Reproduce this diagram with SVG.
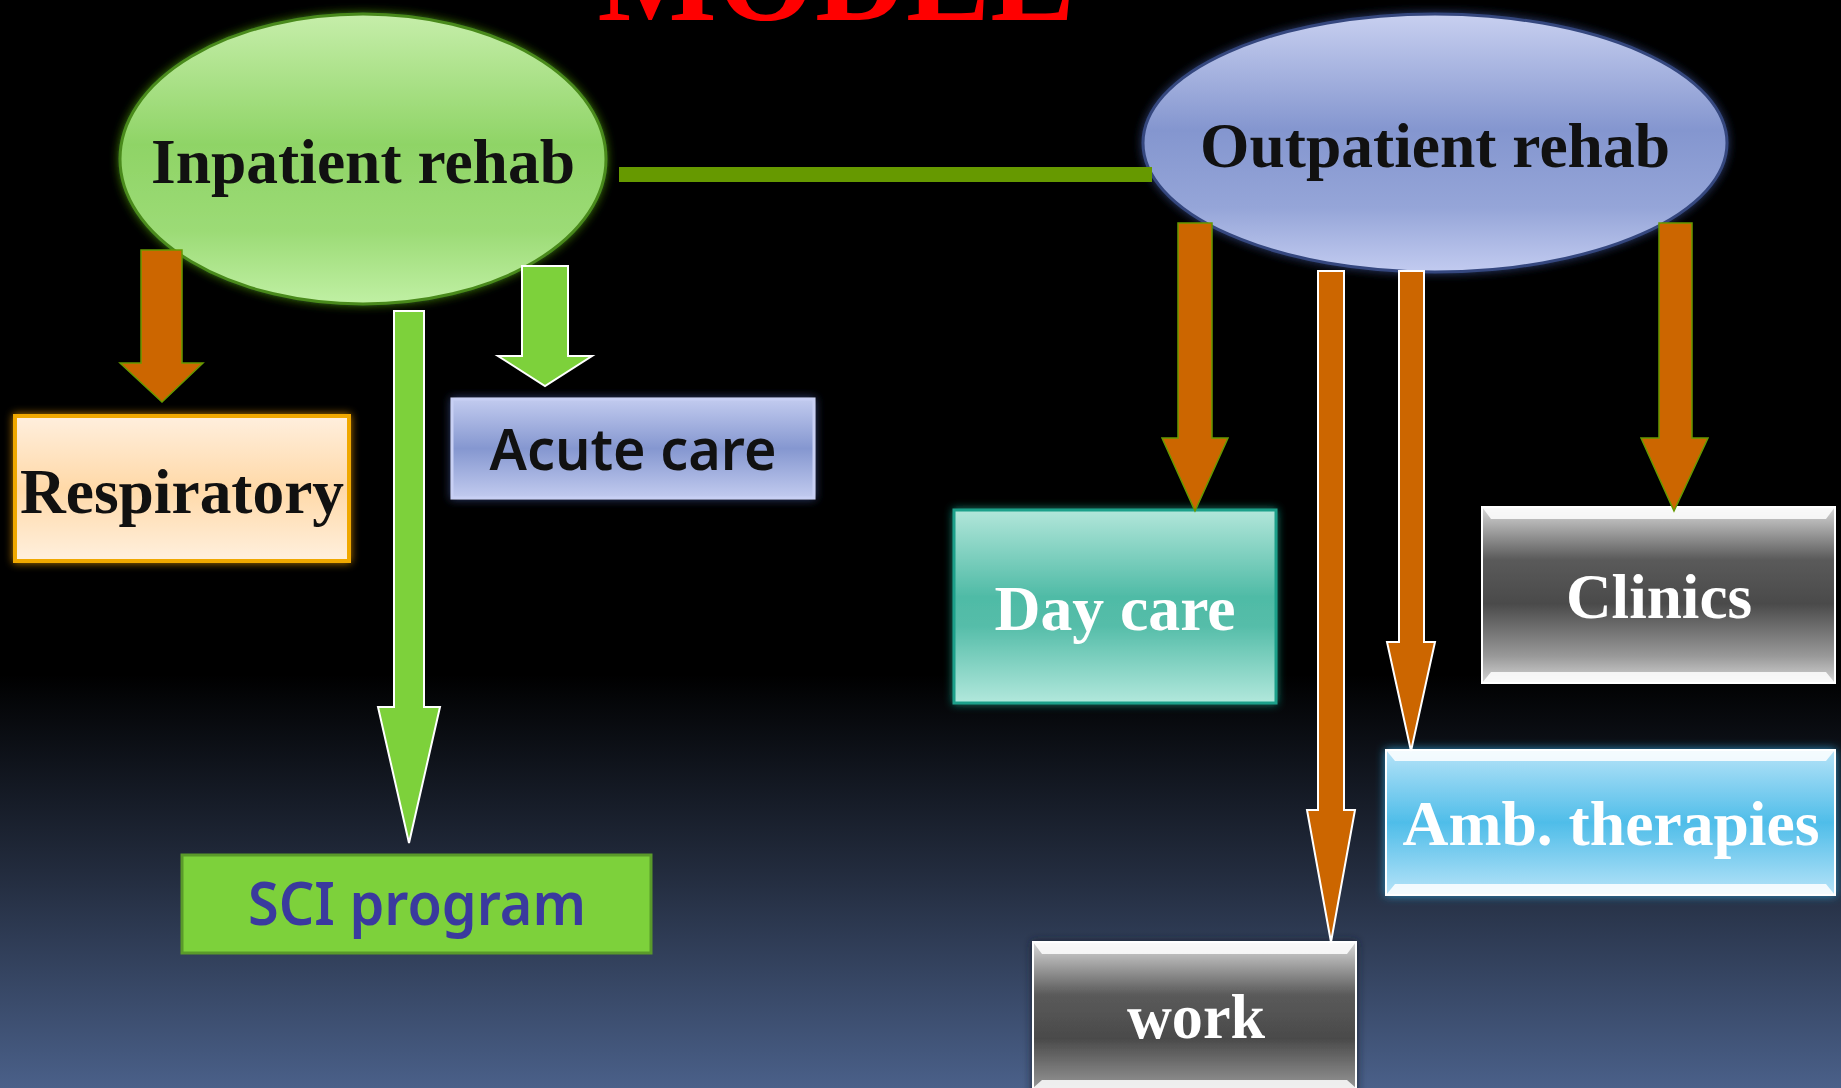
<svg xmlns="http://www.w3.org/2000/svg" width="1841" height="1088" viewBox="0 0 1841 1088">
<defs>
<linearGradient id="bg" x1="0" y1="0" x2="0" y2="1">
<stop offset="0" stop-color="#000"/><stop offset="0.62" stop-color="#000"/><stop offset="0.8" stop-color="#222b3d"/><stop offset="1" stop-color="#4a6089"/>
</linearGradient>
<linearGradient id="gIn" x1="0" y1="0" x2="0" y2="1">
<stop offset="0" stop-color="#c6eeaa"/><stop offset="0.45" stop-color="#8fd466"/><stop offset="0.75" stop-color="#9cdb76"/><stop offset="1" stop-color="#c0f0a4"/>
</linearGradient>
<linearGradient id="gOut" x1="0" y1="0" x2="0" y2="1">
<stop offset="0" stop-color="#c8d0f0"/><stop offset="0.45" stop-color="#8496cf"/><stop offset="0.75" stop-color="#95a5d8"/><stop offset="1" stop-color="#c2cbf0"/>
</linearGradient>
<linearGradient id="gResp" x1="0" y1="0" x2="0" y2="1">
<stop offset="0" stop-color="#ffefde"/><stop offset="0.5" stop-color="#ffd9a8"/><stop offset="1" stop-color="#fff0de"/>
</linearGradient>
<linearGradient id="gAcute" x1="0" y1="0" x2="0" y2="1">
<stop offset="0" stop-color="#c2cbef"/><stop offset="0.5" stop-color="#8597d0"/><stop offset="1" stop-color="#c2cbef"/>
</linearGradient>
<linearGradient id="gDay" x1="0" y1="0" x2="0" y2="1">
<stop offset="0" stop-color="#b2e6da"/><stop offset="0.45" stop-color="#4fbba6"/><stop offset="0.6" stop-color="#55bda9"/><stop offset="1" stop-color="#b2e8dc"/>
</linearGradient>
<linearGradient id="gGray" x1="0" y1="0" x2="0" y2="1">
<stop offset="0" stop-color="#d8d8d8"/><stop offset="0.3" stop-color="#5a5a5a"/><stop offset="0.55" stop-color="#4a4a4a"/><stop offset="0.85" stop-color="#9a9a9a"/><stop offset="1" stop-color="#d4d4d4"/>
</linearGradient>
<linearGradient id="gAmb" x1="0" y1="0" x2="0" y2="1">
<stop offset="0" stop-color="#b6e3f8"/><stop offset="0.5" stop-color="#4fbde9"/><stop offset="1" stop-color="#b6e3f8"/>
</linearGradient>
<filter id="glowG" x="-10%" y="-10%" width="120%" height="120%">
<feGaussianBlur in="SourceAlpha" stdDeviation="5" result="b"/>
<feFlood flood-color="#3d7a10"/><feComposite in2="b" operator="in" result="g"/>
<feMerge><feMergeNode in="g"/><feMergeNode in="SourceGraphic"/></feMerge>
</filter>
<filter id="glowB" x="-10%" y="-10%" width="120%" height="120%">
<feGaussianBlur in="SourceAlpha" stdDeviation="5" result="b"/>
<feFlood flood-color="#2c3d6e"/><feComposite in2="b" operator="in" result="g"/>
<feMerge><feMergeNode in="g"/><feMergeNode in="SourceGraphic"/></feMerge>
</filter>
<filter id="glowO" x="-10%" y="-10%" width="120%" height="120%">
<feGaussianBlur in="SourceAlpha" stdDeviation="4" result="b"/>
<feFlood flood-color="#b87a00"/><feComposite in2="b" operator="in" result="g"/>
<feMerge><feMergeNode in="g"/><feMergeNode in="SourceGraphic"/></feMerge>
</filter>
<filter id="glowT" x="-10%" y="-10%" width="120%" height="120%">
<feGaussianBlur in="SourceAlpha" stdDeviation="4" result="b"/>
<feFlood flood-color="#167a6a"/><feComposite in2="b" operator="in" result="g"/>
<feMerge><feMergeNode in="g"/><feMergeNode in="SourceGraphic"/></feMerge>
</filter>
<filter id="glowC" x="-10%" y="-10%" width="120%" height="120%">
<feGaussianBlur in="SourceAlpha" stdDeviation="5" result="b"/>
<feFlood flood-color="#2b8fc0"/><feComposite in2="b" operator="in" result="g"/>
<feMerge><feMergeNode in="g"/><feMergeNode in="SourceGraphic"/></feMerge>
</filter>
<filter id="glowK" x="-10%" y="-10%" width="120%" height="120%">
<feGaussianBlur in="SourceAlpha" stdDeviation="4" result="b"/>
<feFlood flood-color="#1a2030"/><feComposite in2="b" operator="in" result="g"/>
<feMerge><feMergeNode in="g"/><feMergeNode in="SourceGraphic"/></feMerge>
</filter>
</defs>
<style>
.serif{font-family:"Liberation Serif","Times New Roman",serif;font-weight:bold;}
.sans{font-family:"Noto Sans","Open Sans",sans-serif;font-weight:600;}
.lbl{font-size:64px;text-anchor:middle;}
.white{fill:#fff;}
.black{fill:#111;}
.arrO{fill:#cc6600;stroke:#669900;stroke-width:1.5;}
.arrOW{fill:#cc6600;stroke:#fff;stroke-width:2;}
.arrG{fill:#7dd13b;stroke:#fff;stroke-width:2;}
.bevel{fill:#fff;opacity:0.85;}
</style>
<rect x="0" y="0" width="1841" height="1088" fill="url(#bg)"/>
<text x="836" y="20" class="serif" font-size="126" fill="#ff0000" text-anchor="middle" textLength="477" lengthAdjust="spacingAndGlyphs">MODEL</text>

<g id="inpatient">
<ellipse cx="363" cy="159" rx="243" ry="145" fill="url(#gIn)" stroke="#4a8a1a" stroke-width="3" filter="url(#glowG)"/>
<text x="363" y="183" class="serif lbl black" textLength="424" lengthAdjust="spacingAndGlyphs">Inpatient rehab</text>
</g>
<g id="outpatient">
<ellipse cx="1435" cy="143" rx="292" ry="129" fill="url(#gOut)" stroke="#34477e" stroke-width="3" filter="url(#glowB)"/>
<text x="1435" y="167" class="serif lbl black" textLength="470" lengthAdjust="spacingAndGlyphs">Outpatient rehab</text>
</g>
<g id="respiratory">
<rect x="15" y="416" width="334" height="145" fill="url(#gResp)" stroke="#f0a800" stroke-width="4" filter="url(#glowO)"/>
<text x="182" y="513" class="serif lbl black" textLength="324" lengthAdjust="spacingAndGlyphs">Respiratory</text>
</g>
<g id="acute">
<rect x="452" y="399" width="362" height="99" fill="url(#gAcute)" stroke="#c8d0f4" stroke-width="3" filter="url(#glowB)"/>
<text x="633" y="470" class="sans black" font-size="58" text-anchor="middle" textLength="287" lengthAdjust="spacingAndGlyphs">Acute care</text>
</g>
<g id="sci">
<rect x="182" y="855" width="469" height="98" fill="#7dd13b" stroke="#5a9a2a" stroke-width="3"/>
<text x="417" y="925" class="sans" fill="#3a3a9e" font-size="59" text-anchor="middle" textLength="338" lengthAdjust="spacingAndGlyphs">SCI program</text>
</g>
<g id="daycare">
<rect x="954" y="510" width="322" height="193" fill="url(#gDay)" stroke="#1aa08a" stroke-width="3" filter="url(#glowT)"/>
<text x="1115" y="630" class="serif lbl white" textLength="241" lengthAdjust="spacingAndGlyphs">Day care</text>
</g>
<g id="clinics">
<rect x="1482" y="507" width="353" height="176" fill="url(#gGray)" stroke="#fff" stroke-width="2"/>
<polygon points="1482,507 1835,507 1826,519 1491,519" class="bevel"/>
<polygon points="1482,683 1835,683 1826,672 1491,672" class="bevel"/>
<text x="1659" y="618" class="serif lbl white" textLength="186" lengthAdjust="spacingAndGlyphs">Clinics</text>
</g>
<g id="amb">
<rect x="1386" y="750" width="449" height="145" fill="url(#gAmb)" stroke="#fff" stroke-width="2" filter="url(#glowC)"/>
<polygon points="1386,750 1835,750 1826,761 1395,761" class="bevel"/>
<polygon points="1386,895 1835,895 1826,884 1395,884" class="bevel"/>
<text x="1611" y="845" class="serif lbl white" textLength="417" lengthAdjust="spacingAndGlyphs">Amb. therapies</text>
</g>
<g id="work">
<rect x="1033" y="942" width="323" height="176" fill="url(#gGray)" stroke="#fff" stroke-width="2" filter="url(#glowK)"/>
<polygon points="1033,942 1356,942 1347,954 1042,954" class="bevel"/>
<polygon points="1033,1088 1356,1088 1347,1080 1042,1080" class="bevel"/>
<text x="1196" y="1038" class="serif lbl white" textLength="138" lengthAdjust="spacingAndGlyphs">work</text>
</g>

<g id="connectors">
<rect x="619" y="167" width="533" height="15" fill="#669900"/>
<polygon class="arrO" points="141,250 182,250 182,363 203,363 162,402 120,363 141,363"/>
<polygon class="arrG" points="522,266 568,266 568,356 592,356 545,386 498,356 522,356"/>
<polygon class="arrG" points="394,311 424,311 424,707 440,707 409,843 378,707 394,707"/>
<polygon class="arrO" points="1178,223 1212,223 1212,438 1228,438 1195,511 1162,438 1178,438"/>
<polygon class="arrOW" points="1318,271 1344,271 1344,810 1355,810 1331,942 1307,810 1318,810"/>
<polygon class="arrOW" points="1399,271 1424,271 1424,642 1435,642 1411,751 1387,642 1399,642"/>
<polygon class="arrO" points="1659,223 1692,223 1692,438 1708,438 1674,511 1641,438 1659,438"/>
</g>
</svg>
